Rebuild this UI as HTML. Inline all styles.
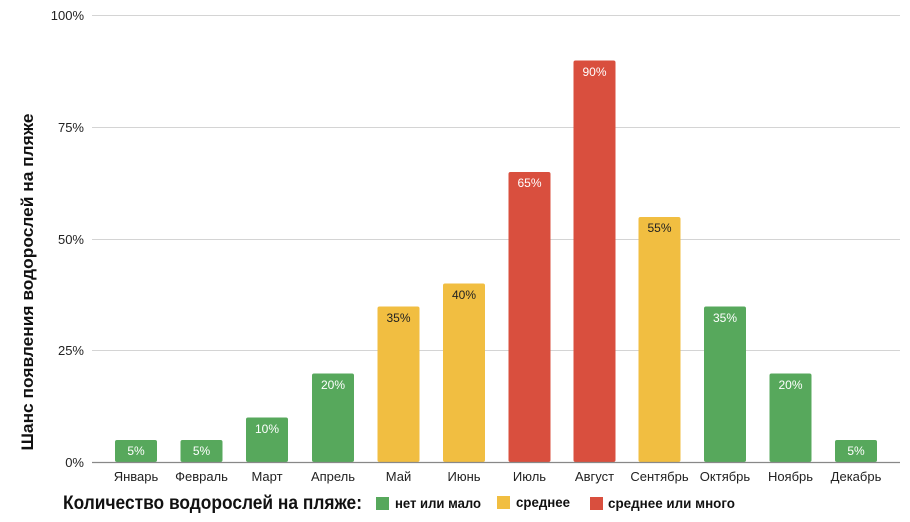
<!DOCTYPE html>
<html><head><meta charset="utf-8"><style>
html,body{margin:0;padding:0;background:#fff;}
svg{display:block;font-family:"Liberation Sans","DejaVu Sans",sans-serif;}
</style></head><body>
<svg width="910" height="522" viewBox="0 0 910 522" xmlns="http://www.w3.org/2000/svg">
<g stroke="#d4d4d4" stroke-width="1">
<line x1="92" y1="15.5" x2="900" y2="15.5"/>
<line x1="92" y1="127.5" x2="900" y2="127.5"/>
<line x1="92" y1="239.5" x2="900" y2="239.5"/>
<line x1="92" y1="350.5" x2="900" y2="350.5"/>
</g>
<g font-size="13" fill="#222" text-anchor="end">
<text x="84" y="20">100%</text>
<text x="84" y="132">75%</text>
<text x="84" y="244">50%</text>
<text x="84" y="355">25%</text>
<text x="84" y="467">0%</text>
</g>
<text transform="translate(33,282) rotate(-90)" text-anchor="middle" font-size="17" font-weight="bold" fill="#111" textLength="337" lengthAdjust="spacingAndGlyphs">Шанс появления водорослей на пляже</text>
<g font-size="12" text-anchor="middle">
<rect x="115" y="440" width="42" height="22" rx="2" fill="#57a85c"/><text x="136" y="455" fill="#fff">5%</text>
<rect x="180.5" y="440" width="42" height="22" rx="2" fill="#57a85c"/><text x="201.5" y="455" fill="#fff">5%</text>
<rect x="246" y="417.5" width="42" height="44.5" rx="2" fill="#57a85c"/><text x="267" y="433" fill="#fff">10%</text>
<rect x="312" y="373.5" width="42" height="88.5" rx="2" fill="#57a85c"/><text x="333" y="389" fill="#fff">20%</text>
<rect x="377.5" y="306.5" width="42" height="155.5" rx="2" fill="#f1be41"/><text x="398.5" y="322" fill="#222">35%</text>
<rect x="443" y="283.5" width="42" height="178.5" rx="2" fill="#f1be41"/><text x="464" y="299" fill="#222">40%</text>
<rect x="508.5" y="172" width="42" height="290" rx="2" fill="#d94f3e"/><text x="529.5" y="187" fill="#fff">65%</text>
<rect x="573.5" y="60.5" width="42" height="401.5" rx="2" fill="#d94f3e"/><text x="594.5" y="76" fill="#fff">90%</text>
<rect x="638.5" y="217" width="42" height="245" rx="2" fill="#f1be41"/><text x="659.5" y="232" fill="#222">55%</text>
<rect x="704" y="306.5" width="42" height="155.5" rx="2" fill="#57a85c"/><text x="725" y="322" fill="#fff">35%</text>
<rect x="769.5" y="373.5" width="42" height="88.5" rx="2" fill="#57a85c"/><text x="790.5" y="389" fill="#fff">20%</text>
<rect x="835" y="440" width="42" height="22" rx="2" fill="#57a85c"/><text x="856" y="455" fill="#fff">5%</text>
</g>
<line x1="92" y1="462.5" x2="900" y2="462.5" stroke="#888" stroke-width="1.2"/>
<g font-size="13" fill="#222" text-anchor="middle">
<text x="136" y="481">Январь</text>
<text x="201.5" y="481">Февраль</text>
<text x="267" y="481">Март</text>
<text x="333" y="481">Апрель</text>
<text x="398.5" y="481">Май</text>
<text x="464" y="481">Июнь</text>
<text x="529.5" y="481">Июль</text>
<text x="594.5" y="481">Август</text>
<text x="659.5" y="481">Сентябрь</text>
<text x="725" y="481">Октябрь</text>
<text x="790.5" y="481">Ноябрь</text>
<text x="856" y="481">Декабрь</text>
</g>
<text x="63" y="509" font-size="19" font-weight="bold" fill="#111" textLength="299" lengthAdjust="spacingAndGlyphs">Количество водорослей на пляже:</text>
<rect x="376" y="497" width="13" height="13" fill="#57a85c"/>
<text x="395" y="508" font-size="14" font-weight="bold" fill="#111" textLength="86" lengthAdjust="spacingAndGlyphs">нет или мало</text>
<rect x="497" y="496" width="13" height="13" fill="#f1be41"/>
<text x="516" y="507" font-size="14" font-weight="bold" fill="#111" textLength="54" lengthAdjust="spacingAndGlyphs">среднее</text>
<rect x="590" y="497" width="13" height="13" fill="#d94f3e"/>
<text x="608" y="508" font-size="14" font-weight="bold" fill="#111" textLength="127" lengthAdjust="spacingAndGlyphs">среднее или много</text>
</svg>
</body></html>
